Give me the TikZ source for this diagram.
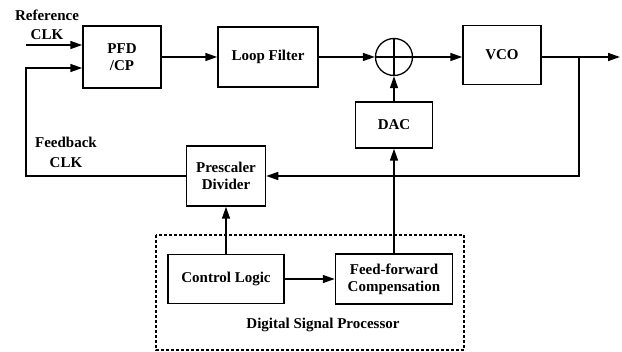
\documentclass[tikz,border=0pt]{standalone}
\usepackage{fontspec}
\setmainfont{Liberation Serif}
\usetikzlibrary{arrows.meta}
\begin{document}
\begin{tikzpicture}[x=1pt,y=-1pt,
  every node/.style={font=\fontsize{15}{17}\selectfont\bfseries},
  blk/.style={draw,line width=1.5pt,inner sep=0pt,align=center},
  lbl/.style={inner sep=0pt,align=center},
  wire/.style={line width=1.5pt},
  arr/.style={wire,-{Triangle[length=12pt,width=8pt]}}]
\useasboundingbox (0,0) rectangle (622,352);
\node[blk,minimum width=78pt,minimum height=62pt] (pfd) at (122,57) {PFD\\/CP};
\node[blk,minimum width=100pt,minimum height=60pt] (lf) at (268,57) {Loop Filter};
\node[draw,circle,line width=1.3pt,minimum size=37pt,inner sep=0pt] (sum) at (394,57) {};
\node[blk,minimum width=78pt,minimum height=59pt] (vco) at (502,55) {VCO};
\node[blk,minimum width=77pt,minimum height=46pt] (dac) at (394,125) {DAC};
\node[blk,minimum width=79pt,minimum height=60pt] (pre) at (226,176) {Prescaler\\Divider};
\node[blk,minimum width=116pt,minimum height=49pt] (cl) at (226,279) {Control Logic};
\node[blk,minimum width=117pt,minimum height=50pt] (ff) at (394,279) {Feed-forward\\Compensation};
\draw[line width=1.3pt,dash pattern=on 3pt off 2pt] (156,235) rectangle (464,350);
\node[lbl] (dsp) at (323,325) {Digital Signal Processor};
\node[lbl] (reflbl) at (47,15) {Reference};
\node[lbl] (refclk) at (47,35) {CLK};
\node[lbl] (fblbl) at (66,142) {Feedback};
\node[lbl] (fbclk) at (66,163) {CLK};
\draw[line width=1.3pt] (sum.north) -- (sum.south) (sum.west) -- (sum.east);
\coordinate (refin) at (26,45);
\coordinate (fbcorner) at (26,176);
\coordinate (fbtop) at (26,68);
\coordinate (outend) at (620,57);
\coordinate (br) at (579,57);
\coordinate (brdown) at (579,176);
\draw[arr] (refin) -- (refin -| pfd.west);
\draw[arr] (pre.west |- fbcorner) -- (fbcorner) -- (fbtop) -- (fbtop -| pfd.west);
\draw[arr] (pfd.east |- lf.west) -- (lf.west);
\draw[arr] (lf.east) -- (sum.west);
\draw[arr] (sum.east) -- (sum.east -| vco.west);
\draw[arr] (vco.east |- br) -- (outend);
\draw[arr] (br) -- (brdown) -- (brdown -| pre.east);
\draw[arr] (dac.north) -- (sum.south);
\draw[arr] (ff.north) -- (dac.south);
\draw[arr] (cl.north) -- (pre.south);
\draw[arr] (cl.east) -- (ff.west);
\end{tikzpicture}
\end{document}
